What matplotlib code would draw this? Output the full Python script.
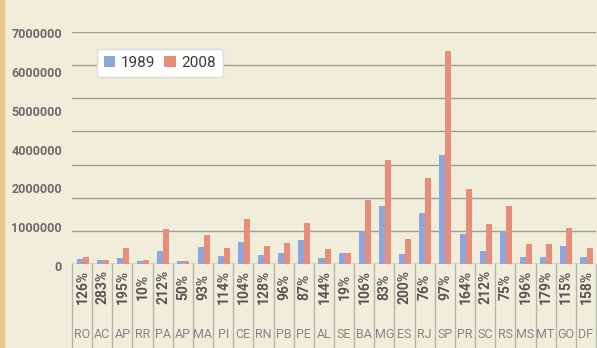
import matplotlib
matplotlib.use("Agg")
import matplotlib.pyplot as plt
from matplotlib.patches import Rectangle
import matplotlib.transforms as mtransforms
import numpy as np

states = ["RO", "AC", "AP", "RR", "PA", "AP", "MA", "PI", "CE", "RN", "PB", "PE", "AL",
          "SE", "BA", "MG", "ES", "RJ", "SP", "PR", "SC", "RS", "MS", "MT", "GO", "DF"]
growth = ["126%", "283%", "195%", "10%", "212%", "50%", "93%", "114%", "104%", "128%",
          "96%", "87%", "144%", "19%", "106%", "83%", "200%", "76%", "97%", "164%",
          "212%", "75%", "196%", "179%", "115%", "158%"]
v1989 = [150000, 110000, 170000, 80000, 380000, 100000, 500000, 240000, 660000, 270000,
         330000, 720000, 190000, 330000, 1000000, 1760000, 300000, 1550000, 3300000, 900000,
         400000, 1000000, 200000, 200000, 550000, 220000]
v2008 = [200000, 130000, 480000, 120000, 1050000, 80000, 860000, 480000, 1350000, 530000,
         620000, 1250000, 460000, 330000, 1940000, 3150000, 760000, 2600000, 6430000, 2270000,
         1200000, 1750000, 600000, 600000, 1100000, 480000]
ytick_labels = ["7000000", "6000000", "5000000", "4000000", "2000000", "1000000", "0"]
series_names = ["1989", "2008"]

BG = "#f0eedb"
BLUE = "#8da6dc"
RED = "#e88d79"
GRAY = "#6a6a6a"
FONT = ["Roboto", "DejaVu Sans"]
plt.rcParams["font.family"] = FONT

W, H = 597, 348
fig = plt.figure(figsize=(W / 100, H / 100), dpi=100, facecolor=BG)
ax = fig.add_axes([72 / W, 1 - 264 / H, 524 / W, 232 / H], facecolor=BG)

x = np.arange(len(states))
bw = 0.3
ax.bar(x - bw / 2 + 0.03, v1989, width=bw, color=BLUE, label=series_names[0], zorder=3)
ax.bar(x + bw / 2 + 0.03, v2008, width=bw, color=RED, label=series_names[1], zorder=3)

ax.set_xlim(-0.5, len(states) - 0.5)
ax.set_ylim(0, 7000000)
ax.set_yticks(np.arange(0, 7000001, 1000000))
ax.yaxis.grid(True, color="#9d9d94", linewidth=1.0, zorder=0)
ax.set_yticklabels([])
ax.tick_params(axis="both", length=0)
ax.set_xticks([])
for s in ax.spines.values():
    s.set_visible(False)
ax.axhline(0, color="#b5b5ad", linewidth=1.0, zorder=2)

# y labels column (as laid out in the reference)
ypos = np.linspace(0.991, -0.017, len(ytick_labels))
for lab, yp in zip(ytick_labels, ypos):
    ax.text(-0.019, yp, lab, transform=ax.transAxes, ha="right", va="center",
            fontsize=9, fontweight="bold", color=GRAY, family=FONT)

# table below baseline
trans = mtransforms.blended_transform_factory(ax.transData, ax.transAxes)
for i in range(len(states) + 1):
    ax.plot([i - 0.5, i - 0.5], [0, -0.4], transform=trans, color="#b3b3ad",
            linewidth=1.0, clip_on=False)
for i, (st, g) in enumerate(zip(states, growth)):
    ax.text(i + 0.02, -0.099, g, transform=trans, rotation=90, ha="center", va="center",
            fontsize=10, fontweight="bold", color="#555555", family=FONT)
    ax.text(i, -0.302, st, transform=trans, ha="center", va="center",
            fontsize=9, color="#858585", family=FONT)

leg = ax.legend(loc="upper left", bbox_to_anchor=(0.048, 0.927), borderaxespad=0,
                ncol=2, frameon=True, fancybox=True, handlelength=0.75, handleheight=0.75,
                handletextpad=0.35, columnspacing=0.6, borderpad=0.45,
                prop={"family": FONT, "size": 11})
leg.get_frame().set_facecolor("white")
leg.get_frame().set_edgecolor("#dcdcd4")
leg.get_frame().set_alpha(1)
for t in leg.get_texts():
    t.set_color("#3a3a3a")

# orange strip at the left edge
fig.patches.append(Rectangle((0, 0), 4 / W, 1, transform=fig.transFigure,
                             color="#ebc68a", zorder=0))

fig.savefig("out.png", dpi=100, facecolor=BG)
